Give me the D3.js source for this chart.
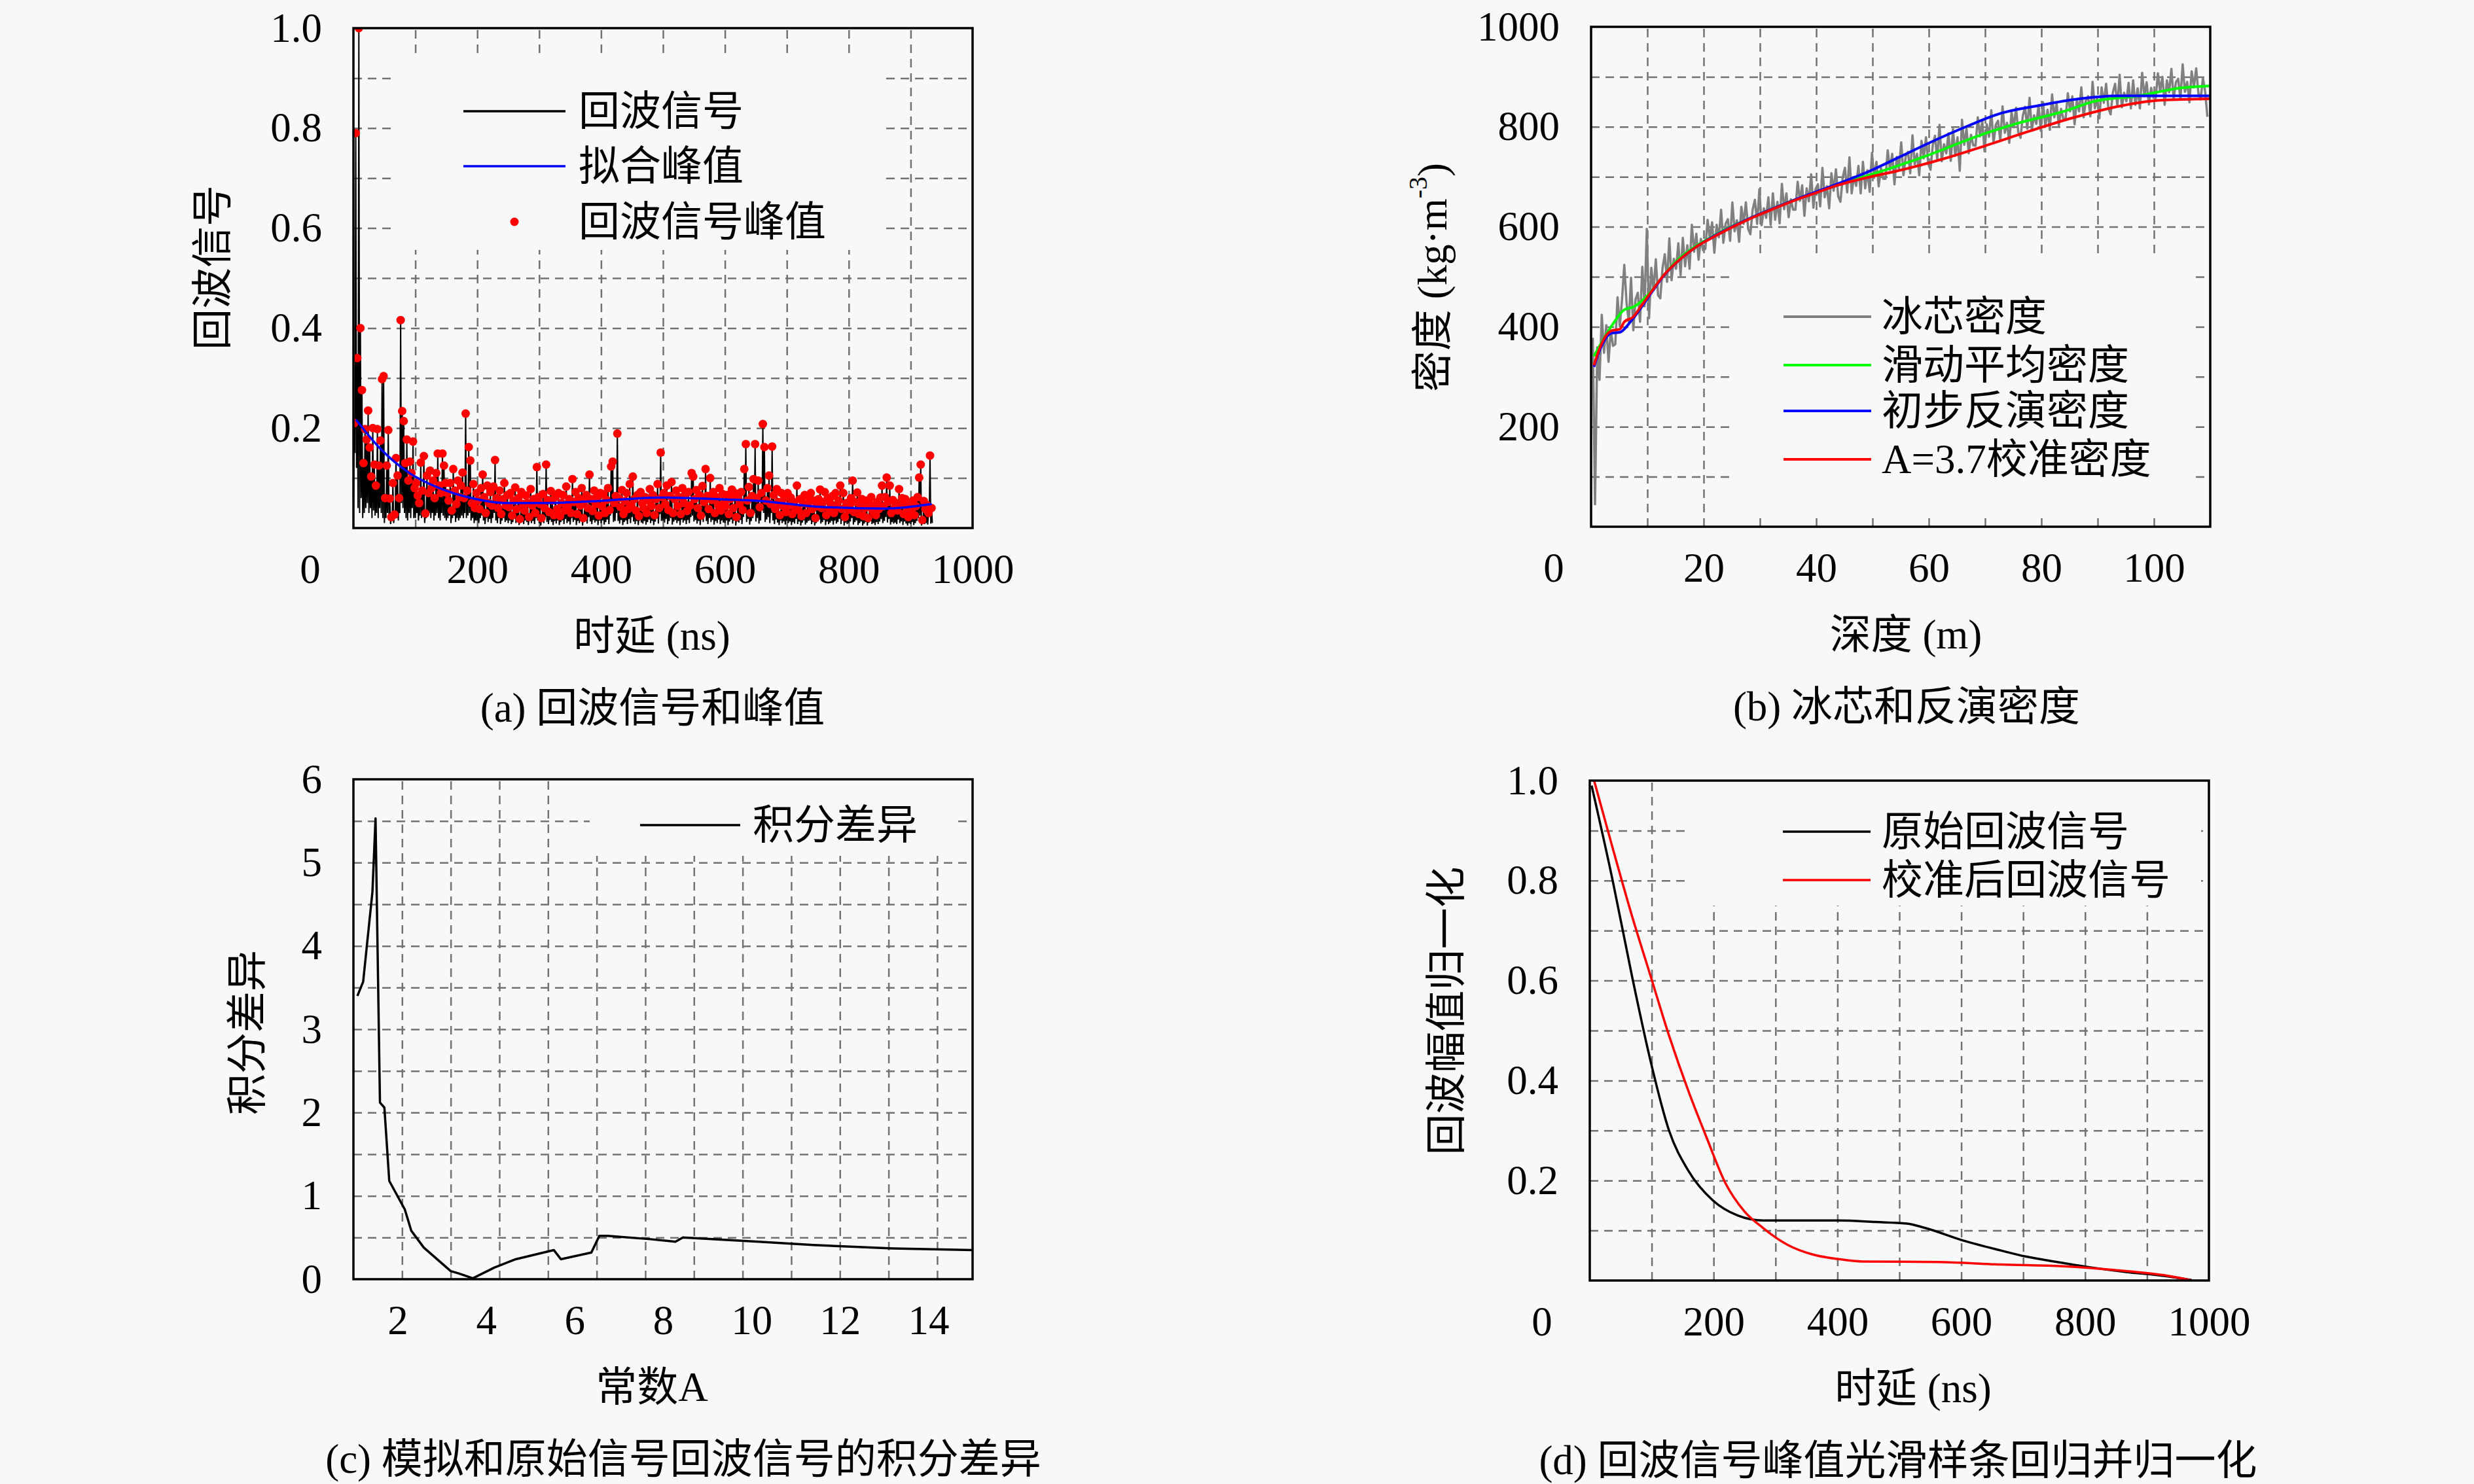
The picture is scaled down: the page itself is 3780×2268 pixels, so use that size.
<!DOCTYPE html>
<html>
<head>
<meta charset="utf-8">
<script src="https://cdn.jsdelivr.net/npm/d3@7"></script>
<style>
  body { margin: 0; background: #f8f8f8; }
  svg { display: block; background: #f8f8f8; }
  text { font-family: "Liberation Serif", "Noto Sans CJK SC", serif; fill: #000; }
</style>
</head>
<body>
<svg id="fig" width="3780" height="2268"></svg>
<script>
// ---------- (a) echo signal, one sample every 1.25 ns, amplitude in thousandths ----------
const echoStepNs = 1.25;
const echoUnit = 1000;
const echoSignal = [
  20,210, 150,790, 120,340, 40,1000, 30,400, 60,276, 20,130, 30,198, 40,177, 50,235,
  30,161, 40,103, 20,200, 35,127, 25,85, 30,198, 20,125, 40,175, 30,298, 20,304,
  10,60, 20,125, 30,196, 15,59, 8,22, 20,90, 10,27, 25,140, 20,105, 15,60,
  30,416, 50,234, 40,214, 30,130, 20,177, 15,95, 30,133, 20,110, 40,173, 20,80,
  20,90, 30,65, 15,50, 25,131, 20,75, 30,144, 10,29, 20,105, 25,70, 30,115,
  20,80, 30,95, 15,60, 25,110, 30,149, 20,85, 15,70, 30,149, 25,125, 20,90,
  15,70, 20,55, 25,90, 10,35, 20,118, 25,75, 12,48, 20,95, 15,62, 20,85,
  25,111, 20,60, 30,229, 20,75, 25,162, 30,135, 15,50, 20,88, 10,40, 15,70,
  15,55, 10,38, 20,80, 25,107, 15,62, 8,30, 20,85, 12,50, 18,72, 10,45,
  20,83, 30,136, 15,60, 10,40, 20,75, 8,28, 15,58, 20,90, 12,45, 15,66,
  10,42, 15,70, 8,25, 12,55, 20,81, 10,38, 15,60, 6,18, 18,72, 12,48,
  8,35, 15,65, 12,50, 6,22, 18,78, 10,45, 14,58, 8,30, 20,122, 15,62,
  10,48, 5,20, 15,68, 10,40, 22,127, 12,56, 8,32, 16,74, 12,55, 6,26,
  14,62, 9,38, 15,70, 6,24, 12,50, 15,66, 8,35, 18,83, 10,44, 13,58,
  7,30, 20,98, 12,52, 16,72, 6,28, 14,60, 10,45, 17,80, 5,20, 12,55,
  15,66, 9,40, 22,107, 13,58, 8,34, 16,75, 11,48, 14,62, 6,25, 15,70,
  10,44, 15,68, 7,30, 12,56, 17,80, 8,36, 25,123, 30,133, 12,50, 14,64,
  30,189, 14,60, 9,42, 16,76, 6,28, 12,54, 15,70, 8,38, 18,88, 10,46,
  22,103, 13,58, 8,35, 14,66, 6,24, 15,72, 11,50, 9,40, 14,62, 7,30,
  12,55, 17,78, 10,44, 14,66, 6,26, 13,58, 19,88, 9,40, 28,151, 14,62,
  15,70, 11,48, 18,85, 8,36, 14,64, 20,92, 7,30, 13,58, 16,75, 10,44,
  14,62, 6,28, 17,80, 11,50, 15,68, 8,34, 16,72, 10,45, 22,110, 25,103,
  13,58, 16,76, 9,40, 14,66, 6,25, 18,84, 12,52, 24,118, 14,64, 8,38,
  20,100, 12,56, 16,72, 7,30, 14,62, 10,46, 17,80, 8,35, 15,68, 11,50,
  10,44, 15,66, 6,28, 13,58, 17,77, 9,40, 15,70, 5,22, 13,60, 11,48,
  16,72, 8,36, 22,118, 30,168, 12,55, 18,82, 7,30, 14,64, 20,98, 30,168,
  13,60, 20,95, 9,42, 15,70, 35,208, 30,162, 12,55, 17,80, 22,105, 10,48,
  30,163, 15,66, 8,38, 17,78, 11,52, 6,26, 15,70, 10,44, 13,60, 7,32,
  15,70, 10,45, 13,61, 6,28, 12,52, 9,40, 18,85, 8,36, 13,58, 5,24,
  11,50, 15,66, 7,30, 11,48, 14,62, 15,70, 8,38, 12,55, 5,20, 10,44,
  13,58, 17,77, 9,40, 12,52, 16,72, 6,26, 13,60, 8,35, 11,48, 14,64,
  7,30, 15,70, 9,42, 12,55, 18,85, 8,38, 15,70, 5,22, 11,50, 8,36,
  10,46, 13,60, 20,95, 7,32, 12,52, 15,71, 6,28, 10,44, 13,58, 5,24,
  9,40, 12,55, 5,20, 11,48, 14,62, 8,34, 10,45, 6,26, 12,52, 8,38,
  13,61, 18,85, 10,44, 14,62, 22,101, 11,52, 18,85, 7,30, 12,56, 9,40,
  11,50, 8,35, 17,78, 10,46, 13,60, 6,28, 13,58, 9,42, 5,22, 10,48,
  8,34, 12,55, 6,26, 10,44, 14,62, 20,101, 25,127, 5,16, 12,54, 8,38,
  10,46, 7,30, 25,145, 9,40, 10
];
// fitted peak curve
const fitTime = [4, 44, 88, 149, 202, 246, 307, 395, 492, 605, 658, 746, 860, 934];
const fitPeak = [0.217, 0.158, 0.112, 0.075, 0.057, 0.05, 0.05, 0.054, 0.061, 0.057, 0.054, 0.043, 0.039, 0.048];

// ---------- (b) ice core density, one sample every 0.4 m from 0.3 m ----------
const coreStartM = 0.3, coreStepM = 0.4;
const coreDensity = [
  378, 45, 359, 294, 424, 348, 403, 330, 393, 362,
  365, 459, 401, 454, 524, 448, 410, 498, 393, 455,
  468, 410, 520, 441, 596, 417, 518, 473, 535, 463,
  457, 518, 545, 490, 577, 493, 536, 516, 567, 503,
  578, 521, 563, 516, 604, 550, 586, 534, 576, 553,
  556, 614, 576, 609, 548, 604, 579, 634, 568, 606,
  615, 572, 649, 591, 613, 570, 640, 606, 649, 596,
  585, 634, 654, 606, 675, 603, 637, 618, 659, 604,
  667, 614, 650, 607, 686, 635, 667, 619, 655, 634,
  634, 690, 652, 683, 622, 677, 651, 705, 638, 676,
  685, 641, 718, 659, 681, 637, 707, 672, 715, 661,
  650, 698, 718, 669, 739, 667, 700, 682, 722, 667,
  730, 677, 713, 670, 748, 698, 730, 681, 718, 696,
  696, 753, 714, 746, 685, 740, 715, 769, 703, 741,
  750, 707, 783, 725, 746, 703, 772, 737, 779, 726,
  714, 763, 782, 734, 804, 731, 765, 747, 787, 732,
  796, 742, 779, 712, 814, 764, 796, 747, 784, 763,
  762, 819, 781, 812, 751, 805, 780, 833, 767, 804,
  812, 772, 841, 788, 808, 768, 830, 799, 838, 789,
  778, 822, 840, 796, 858, 793, 823, 806, 843, 792,
  849, 801, 834, 794, 865, 819, 847, 803, 836, 816,
  816, 867, 831, 861, 805, 854, 831, 879, 819, 853,
  861, 821, 890, 837, 857, 817, 879, 848, 886, 837,
  825, 869, 886, 842, 904, 839, 868, 851, 888, 837,
  893, 844, 877, 837, 908, 861, 889, 845, 878, 858,
  856, 907, 871, 900, 844, 893, 869, 916, 856, 889,
  896, 856, 925, 870, 890, 849, 911, 879, 917, 867,
  855, 898, 870, 820
];
const avgDepth   = [0.5, 3.9, 5.9, 7.6, 10.4, 12.9, 15.6, 18.7, 21, 24.5, 28.4, 32.2, 36.2, 40, 43.8, 49.6, 54.5, 60.3, 68.8, 75.8, 84, 89.4, 97.2, 104.9, 110];
const avgDensity = [341, 406, 434, 440, 467, 503, 536, 562, 577, 598, 618, 636, 654, 669, 684, 704, 722, 745, 782, 807, 831, 851, 862, 878, 882];
const initDepth   = [0.5, 1.6, 3.6, 5.1, 7.2, 9, 10.9, 12.9, 15.6, 18.7, 21, 24.5, 28.4, 32.2, 36.2, 40, 43.8, 49.6, 54.5, 60.3, 67, 72.8, 79.3, 86.7, 93.3, 101, 110];
const initDensity = [320, 355, 387, 389, 413, 440, 471, 502, 533, 560, 576, 597, 618, 636, 654, 670, 686, 712, 738, 769, 802, 827, 842, 856, 862, 862, 862];
const calDepth   = [0.5, 1.6, 3.6, 5.1, 5.9, 7.4, 9, 10.9, 12.9, 15.6, 18.7, 21, 24.5, 28.4, 32.2, 36.2, 40, 43.8, 49.6, 54.5, 62.3, 70, 77.8, 85.6, 93.3, 101, 110];
const calDensity = [323, 359, 392, 395, 410, 419, 443, 473, 503, 533, 560, 575, 596, 617, 635, 653, 668, 683, 700, 712, 735, 762, 791, 818, 840, 853, 856];

// ---------- (c) integral difference against constant A ----------
const constA = [1.09, 1.22, 1.43, 1.5, 1.6, 1.7, 1.81, 2.16, 2.31, 2.59, 3.2, 3.39, 3.7, 4.19, 4.67, 5.53, 5.69, 6.38, 6.56, 6.75, 7.72, 8.28, 8.45, 10.17, 11.4, 13.2, 15];
const integralDiff = [3.4, 3.57, 4.65, 5.53, 2.12, 2.06, 1.18, 0.84, 0.58, 0.38, 0.097, 0.068, 0.011, 0.14, 0.24, 0.35, 0.24, 0.32, 0.52, 0.52, 0.48, 0.45, 0.5, 0.45, 0.41, 0.37, 0.35];
const gridA = [2.1, 3.2, 4.3, 5.4, 6.5, 7.6, 8.7, 9.8, 10.9, 12.0, 13.1, 14.2];

// ---------- (d) normalised smoothed peaks ----------
const rawTime = [3, 37, 68, 98, 128, 159, 199, 239, 280, 360, 401, 462, 512, 542, 603, 664, 704, 765, 805, 866, 926, 972];
const rawNorm = [0.99, 0.80, 0.61, 0.44, 0.30, 0.22, 0.16, 0.13, 0.12, 0.12, 0.12, 0.117, 0.114, 0.105, 0.08, 0.06, 0.048, 0.035, 0.027, 0.017, 0.0095, 0.001];
const calTime = [7, 37, 68, 98, 128, 159, 189, 219, 250, 280, 320, 360, 401, 441, 563, 664, 765, 866, 926, 972];
const calNorm = [1.0, 0.865, 0.73, 0.61, 0.49, 0.38, 0.285, 0.195, 0.138, 0.105, 0.071, 0.052, 0.043, 0.038, 0.037, 0.032, 0.0285, 0.019, 0.011, 0.0];

const FONT = 63;
const BG = "#f8f8f8";
const svg = d3.select("#fig");

// builds dashed grid, tick labels and legend backing for one panel
function makePanel(p) {
    const x = d3.scaleLinear(p.xDomain, [0, p.w]);
    const y = d3.scaleLinear(p.yDomain, [p.h, 0]);
    const g = svg.append("g").attr("transform", `translate(${p.left},${p.top})`);

    g.append("clipPath").attr("id", p.id + "-clip")
        .append("rect").attr("width", p.w).attr("height", p.h);

    const gx = g.append("g").attr("transform", `translate(0,${p.h})`)
        .call(d3.axisBottom(x).tickValues(p.xGrid).tickSize(-p.h).tickFormat(""));
    const gy = g.append("g")
        .call(d3.axisLeft(y).tickValues(p.yGrid).tickSize(-p.w).tickFormat(""));
    [gx, gy].forEach(a => {
        a.select(".domain").remove();
        a.selectAll("line")
            .attr("stroke", "#717171")
            .attr("stroke-width", 2.5)
            .attr("stroke-dasharray", "13,9");
    });

    const ax = g.append("g").attr("transform", `translate(0,${p.h})`)
        .call(d3.axisBottom(x).tickValues(p.xTicks).tickFormat(p.xFormat).tickSize(0).tickPadding(39));
    const ay = g.append("g")
        .call(d3.axisLeft(y).tickValues(p.yTicks).tickFormat(p.yFormat).tickSize(0).tickPadding(48));
    [ax, ay].forEach(a => {
        a.select(".domain").remove();
        a.attr("font-size", FONT);
        a.selectAll("text").attr("fill", "#000");
    });

    if (p.zeroX !== undefined) {
        g.append("text").attr("x", p.zeroX).attr("y", p.h + 84)
            .attr("text-anchor", "middle").attr("font-size", FONT).text("0");
    }

    // legend background hides the grid
    g.append("rect").attr("x", p.box[0]).attr("y", p.box[1])
        .attr("width", p.box[2] - p.box[0]).attr("height", p.box[3] - p.box[1])
        .attr("fill", BG);

    const plot = g.append("g").attr("clip-path", `url(#${p.id}-clip)`);
    return { g, plot, x, y, p };
}

// frame, titles, caption and legend
function finishPanel(panel, cfg) {
    const { g, p } = panel;
    g.append("rect").attr("width", p.w).attr("height", p.h)
        .attr("fill", "none").attr("stroke", "#000").attr("stroke-width", 3.5);

    const yt = g.append("text")
        .attr("transform", `translate(${cfg.yTitle[0]},${cfg.yTitle[1]}) rotate(-90)`)
        .attr("text-anchor", "middle").attr("dominant-baseline", "central")
        .attr("font-size", FONT);
    cfg.yTitleFn ? cfg.yTitleFn(yt) : yt.text(cfg.yText);

    g.append("text").attr("x", cfg.xTitleX).attr("y", p.h + 186)
        .attr("text-anchor", "middle").attr("font-size", FONT).text(cfg.xText);
    g.append("text").attr("x", cfg.capX).attr("y", p.h + 296)
        .attr("text-anchor", "middle").attr("font-size", FONT).text(cfg.caption);

    cfg.legend.forEach((item, i) => {
        const ly = cfg.legRows[i];
        if (item.dot) {
            g.append("circle").attr("cx", (cfg.legLine[0] + cfg.legLine[1]) / 2).attr("cy", ly)
                .attr("r", 6.5).attr("fill", item.color);
        } else {
            g.append("line").attr("x1", cfg.legLine[0]).attr("x2", cfg.legLine[1])
                .attr("y1", ly).attr("y2", ly)
                .attr("stroke", item.color).attr("stroke-width", cfg.legWidth || 3.5);
        }
        g.append("text").attr("x", cfg.legText).attr("y", ly)
            .attr("dominant-baseline", "central").attr("font-size", FONT).text(item.label);
    });
}

const lineOf = (panel, xs, ys, curve) => d3.line()
    .x(d => panel.x(d[0])).y(d => panel.y(d[1]))
    .curve(curve || d3.curveLinear)(d3.zip(xs, ys));

const tenths = d3.range(1, 10).map(k => k / 10);
const fmt1 = d3.format(".1f");

// ================= (a) =================
const pa = makePanel({
    id: "pa", left: 540, top: 43, w: 946, h: 764,
    xDomain: [0, 1000], yDomain: [0, 1],
    xGrid: [100, 200, 300, 400, 500, 600, 700, 800, 900], yGrid: tenths,
    xTicks: [200, 400, 600, 800, 1000], yTicks: [0.2, 0.4, 0.6, 0.8, 1.0],
    xFormat: d3.format("d"), yFormat: fmt1, zeroX: -66,
    box: [58, 45, 805, 339]
});
const echoPts = echoSignal.map((v, i) => [i * echoStepNs, v / echoUnit]);
const echoPeaks = echoPts.filter((d, i, a) =>
    i > 0 && i < a.length - 1 && d[1] > a[i - 1][1] && d[1] >= a[i + 1][1]);
pa.plot.append("path")
    .attr("d", d3.line().x(d => pa.x(d[0])).y(d => pa.y(d[1]))(echoPts))
    .attr("fill", "none").attr("stroke", "#000").attr("stroke-width", 2);
pa.plot.selectAll("circle.peak").data(echoPeaks).join("circle")
    .classed("peak", true)
    .attr("cx", d => pa.x(d[0])).attr("cy", d => pa.y(d[1]))
    .attr("r", 6.5).attr("fill", "#ff0000");
pa.plot.append("path")
    .attr("d", lineOf(pa, fitTime, fitPeak, d3.curveMonotoneX))
    .attr("fill", "none").attr("stroke", "#0000ff").attr("stroke-width", 3.5);
finishPanel(pa, {
    yTitle: [-215, 366], yText: "回波信号",
    xTitleX: 456, xText: "时延 (ns)",
    capX: 457, caption: "(a) 回波信号和峰值",
    legLine: [168, 324], legText: 344, legRows: [127, 211, 296],
    legend: [
        { label: "回波信号", color: "#000" },
        { label: "拟合峰值", color: "#0000ff" },
        { label: "回波信号峰值", color: "#ff0000", dot: true }
    ]
});

// ================= (b) =================
const pb = makePanel({
    id: "pb", left: 2431, top: 41, w: 946, h: 764,
    xDomain: [0, 110], yDomain: [0, 1000],
    xGrid: d3.range(10, 101, 10), yGrid: d3.range(100, 901, 100),
    xTicks: [20, 40, 60, 80, 100], yTicks: [200, 400, 600, 800, 1000],
    xFormat: d3.format("d"), yFormat: d3.format("d"), zeroX: -57,
    box: [214, 352, 924, 749]
});
const corePts = coreDensity.map((v, i) => [coreStartM + i * coreStepM, v]);
pb.plot.append("path")
    .attr("d", d3.line().x(d => pb.x(d[0])).y(d => pb.y(d[1]))(corePts))
    .attr("fill", "none").attr("stroke", "#808080").attr("stroke-width", 3.5)
    .attr("stroke-linejoin", "round");
[[avgDepth, avgDensity, "#00ff00"], [initDepth, initDensity, "#0000ff"], [calDepth, calDensity, "#ff0000"]]
    .forEach(([xs, ys, c]) => pb.plot.append("path")
        .attr("d", lineOf(pb, xs, ys, d3.curveMonotoneX))
        .attr("fill", "none").attr("stroke", c).attr("stroke-width", 4));
finishPanel(pb, {
    yTitle: [-242, 383],
    yTitleFn: t => {
        t.append("tspan").text("密度 (kg·m");
        t.append("tspan").attr("font-size", 40).attr("baseline-shift", "super").text("-3");
        t.append("tspan").text(")");
    },
    xTitleX: 481, xText: "深度 (m)",
    capX: 482, caption: "(b) 冰芯和反演密度",
    legLine: [294, 428], legText: 444, legRows: [443, 517, 587, 661], legWidth: 4,
    legend: [
        { label: "冰芯密度", color: "#808080" },
        { label: "滑动平均密度", color: "#00ff00" },
        { label: "初步反演密度", color: "#0000ff" },
        { label: "A=3.7校准密度", color: "#ff0000" }
    ]
});

// ================= (c) =================
const pc = makePanel({
    id: "pc", left: 540, top: 1191, w: 946, h: 764,
    xDomain: [1, 15], yDomain: [0, 6],
    xGrid: gridA, yGrid: d3.range(0.5, 5.6, 0.5),
    xTicks: [2, 4, 6, 8, 10, 12, 14], yTicks: [0, 1, 2, 3, 4, 5, 6],
    xFormat: d3.format("d"), yFormat: d3.format("d"),
    box: [361, 0, 921, 117]
});
pc.plot.append("path")
    .attr("d", lineOf(pc, constA, integralDiff))
    .attr("fill", "none").attr("stroke", "#000").attr("stroke-width", 3.5)
    .attr("stroke-linejoin", "round");
finishPanel(pc, {
    yTitle: [-162, 387], yText: "积分差异",
    xTitleX: 456, xText: "常数A",
    capX: 504, caption: "(c) 模拟和原始信号回波信号的积分差异",
    legLine: [438, 591], legText: 610, legRows: [70],
    legend: [{ label: "积分差异", color: "#000" }]
});

// ================= (d) =================
const pd = makePanel({
    id: "pd", left: 2429, top: 1193, w: 946, h: 764,
    xDomain: [0, 1000], yDomain: [0, 1],
    xGrid: [100, 200, 300, 400, 500, 600, 700, 800, 900], yGrid: tenths,
    xTicks: [200, 400, 600, 800, 1000], yTicks: [0.2, 0.4, 0.6, 0.8, 1.0],
    xFormat: d3.format("d"), yFormat: fmt1, zeroX: -73,
    box: [149, 0, 934, 191]
});
pd.plot.append("path")
    .attr("d", lineOf(pd, rawTime, rawNorm, d3.curveMonotoneX))
    .attr("fill", "none").attr("stroke", "#000").attr("stroke-width", 3.5);
pd.plot.append("path")
    .attr("d", lineOf(pd, calTime, calNorm, d3.curveMonotoneX))
    .attr("fill", "none").attr("stroke", "#ff0000").attr("stroke-width", 3.5);
finishPanel(pd, {
    yTitle: [-219, 352], yText: "回波幅值归一化",
    xTitleX: 494, xText: "时延 (ns)",
    capX: 471, caption: "(d) 回波信号峰值光滑样条回归并归一化",
    legLine: [295, 429], legText: 446, legRows: [78, 152],
    legend: [
        { label: "原始回波信号", color: "#000" },
        { label: "校准后回波信号", color: "#ff0000" }
    ]
});
</script>
</body>
</html>
